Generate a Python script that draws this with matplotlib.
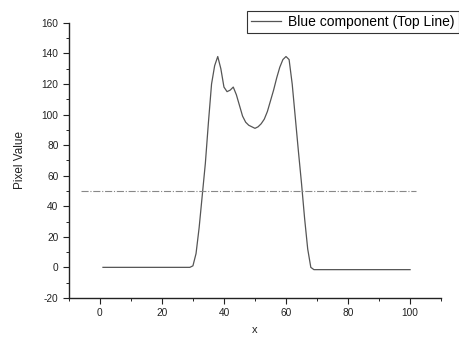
import matplotlib
matplotlib.use("Agg")
import matplotlib.pyplot as plt
from matplotlib.ticker import MultipleLocator

plt.rcParams['font.family'] = ['Liberation Sans', 'DejaVu Sans']
plt.rcParams['axes.unicode_minus'] = False

# Blue component along the top line
x_vals = [1, 29, 30, 31, 32, 33, 34, 35, 36, 37, 38, 39, 40, 41, 42, 43, 44, 45,
          46, 47, 48, 49, 50, 51, 52, 53, 54, 55, 56, 57, 58, 59, 60, 61, 62,
          63, 64, 65, 66, 67, 68, 69, 100]
y_vals = [0, 0, 1, 9, 26, 47, 68, 95, 120, 132, 138, 130, 118, 115, 116, 118, 113, 106,
          99, 95, 93, 92, 91, 92, 94, 97, 102, 109, 116, 124, 131, 136, 138, 136, 120,
          98, 76, 55, 32, 12, 0, -1.5, -1.5]

threshold_x = [-6, 102]
threshold_y = [50, 50]

x_ticks = [0, 20, 40, 60, 80, 100]
y_ticks = [-20, 0, 20, 40, 60, 80, 100, 120, 140, 160]

fig = plt.figure(figsize=(4.59, 3.37), dpi=100)
ax = fig.add_axes([0.150, 0.116, 0.811, 0.816])

line, = ax.plot(x_vals, y_vals, color='#555555', lw=0.9, label='Blue component (Top Line)')
ax.plot(threshold_x, threshold_y, color='#888888', lw=0.8, ls='-.')

ax.set_xlim(-10, 110)
ax.set_ylim(-20, 160)
ax.set_xticks(x_ticks)
ax.set_yticks(y_ticks)
ax.xaxis.set_minor_locator(MultipleLocator(10))
ax.yaxis.set_minor_locator(MultipleLocator(10))
ax.tick_params(which='major', direction='out', length=4, width=0.8, labelsize=7.3, colors='#222222')
ax.tick_params(which='minor', direction='out', length=2, width=0.6)

for s in ['top', 'right']:
    ax.spines[s].set_visible(False)
for s in ['left', 'bottom']:
    ax.spines[s].set_linewidth(1.0)
    ax.spines[s].set_color('#222222')

ax.set_xlabel('x', fontsize=8, color='#222222', labelpad=5)
ax.set_ylabel('Pixel Value', fontsize=8.5, color='#222222', labelpad=11)

leg = fig.legend(handles=[line], loc='upper right', bbox_to_anchor=(1.0, 0.968),
                 fontsize=10, fancybox=False, framealpha=1, edgecolor='#333333',
                 borderaxespad=0, handlelength=2.2, handletextpad=0.5, borderpad=0.3)
leg.get_frame().set_linewidth(0.8)

fig.savefig('out.png', dpi=100)
